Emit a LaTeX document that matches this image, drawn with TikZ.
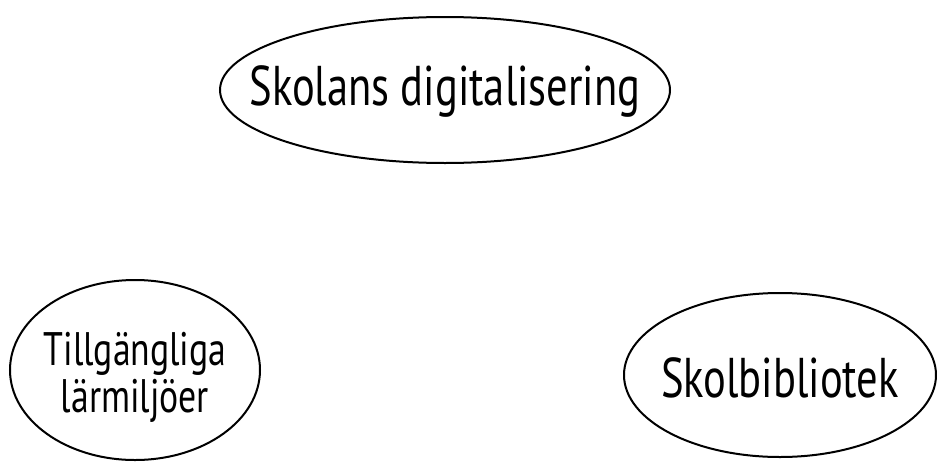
\documentclass[tikz,border=0pt]{standalone}
\usepackage{fontspec}
\newfontfamily\hand[FakeStretch=0.76]{PT Sans}
\usetikzlibrary{shapes.geometric}
\newcommand{\placetext}[2]{\makebox[0pt]{\raisebox{#1}[0pt][0pt]{#2}}}
\tikzset{
  topic/.style={ellipse, draw=black, line width=2pt, inner sep=0pt},
}
\begin{document}
\begin{tikzpicture}[x=1pt,y=-1pt]
\useasboundingbox (0,0) rectangle (937,461);
\node[topic, minimum width=450pt, minimum height=146pt, font={\hand\fontsize{56}{56}\selectfont}] (dig) at (445,90) {\placetext{-15pt}{Skolans digitalisering}};
\node[topic, minimum width=250pt, minimum height=180pt, font={\hand\fontsize{47}{47}\selectfont}] (lar) at (135,370) {\placetext{5pt}{Tillgängliga}\placetext{-42pt}{lärmiljöer}};
\node[topic, minimum width=312pt, minimum height=164pt, font={\hand\fontsize{56}{56}\selectfont}] (bib) at (780,375) {\placetext{-22pt}{Skolbibliotek}};
\end{tikzpicture}
\end{document}
